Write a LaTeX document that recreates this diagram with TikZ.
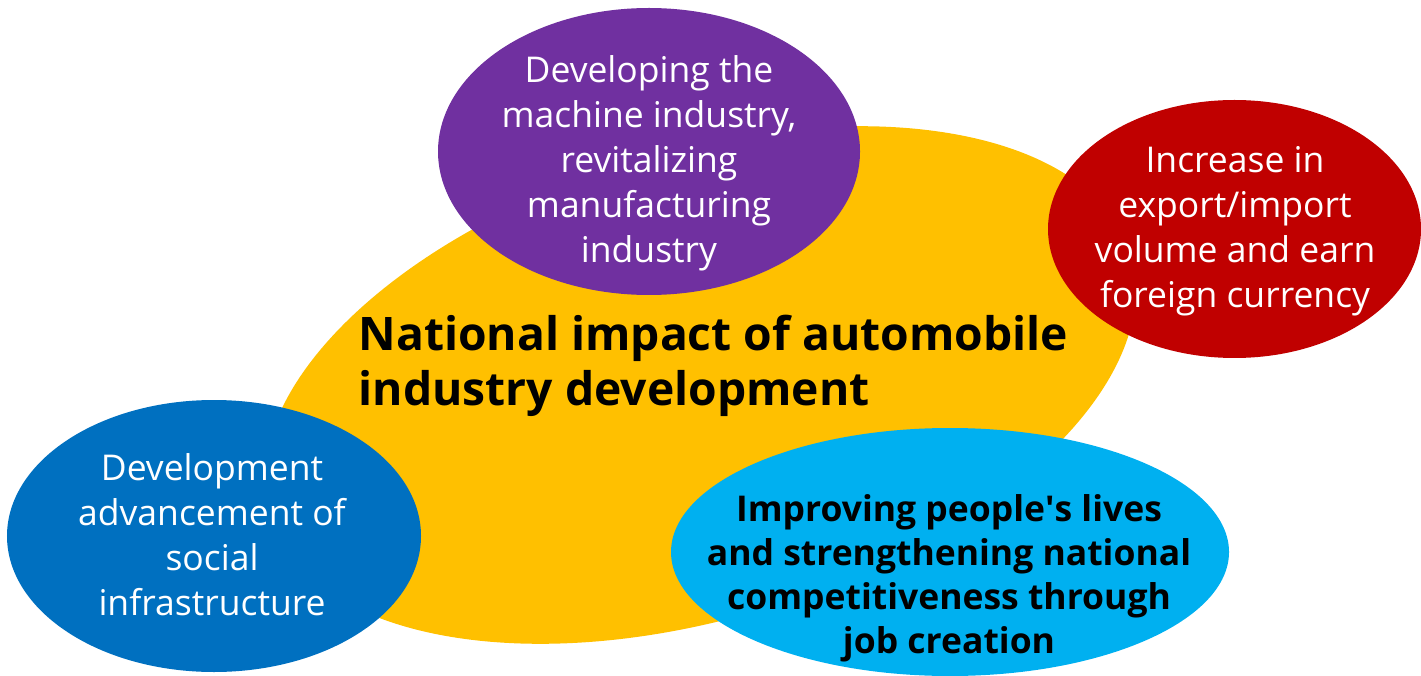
\documentclass[tikz,border=0pt]{standalone}
\usepackage{fontspec}
\setmainfont{Open Sans}
\definecolor{impYellow}{HTML}{FFC000}
\definecolor{impPurple}{HTML}{7030A0}
\definecolor{impRed}{HTML}{C00000}
\definecolor{impBlue}{HTML}{0070C0}
\definecolor{impCyan}{HTML}{00B0F0}
\begin{document}
\begin{tikzpicture}[
		lighttext/.style={text=white,align=center,font=\fontsize{10.1}{12.8}\selectfont},
		boldtext/.style={text=black,align=center,font=\bfseries\fontsize{10.1}{12.5}\selectfont}]
		\useasboundingbox (0,0) rectangle (14.21,6.75);
		% big background ellipse, tilted
		\fill[impYellow,rotate around={17:(7,2.9)}] (7,2.9) ellipse [x radius=4.5,y radius=2.33];
		\fill[impPurple] (6.49,5.235) ellipse [x radius=2.11,y radius=1.435];
		\fill[impRed] (12.345,4.46) ellipse [x radius=1.865,y radius=1.29];
		\fill[impBlue] (2.14,1.39) ellipse [x radius=2.07,y radius=1.36];
		\fill[impCyan] (9.5,1.23) ellipse [x radius=2.79,y radius=1.24];
		\node[anchor=west,align=left,inner sep=0pt,font=\bfseries\fontsize{13.15}{15.8}\selectfont] (impact) at (3.58,3.09) {National impact of automobile\\industry development};
		\node[lighttext] (machine) at (6.49,5.12) {Developing the\\machine industry,\\revitalizing\\manufacturing\\industry};
		\node[lighttext] (export) at (12.35,4.44) {Increase in\\export/import\\volume and earn\\foreign currency};
		\node[lighttext] (infra) at (2.12,1.40) {Development\\advancement of\\social\\infrastructure};
		\node[boldtext] (jobs) at (9.49,0.97) {Improving people\textquotesingle s lives\\and strengthening national\\competitiveness through\\job creation};
\end{tikzpicture}
\end{document}
